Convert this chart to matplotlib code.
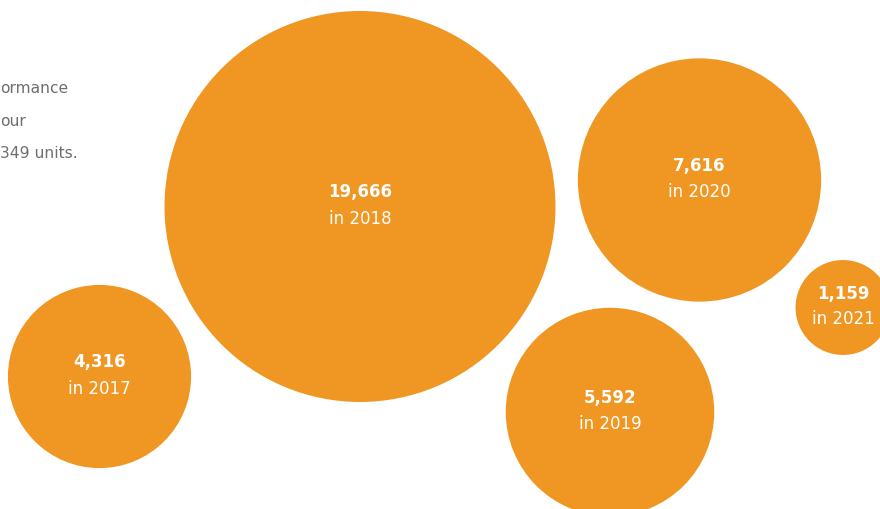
import matplotlib.pyplot as plt
from matplotlib.patches import Circle
import numpy as np

# data
years = ['2017', '2018', '2019', '2020', '2021']
units = [4316, 19666, 5592, 7616, 1159]

# layout (bubble centres in pixels, packed by hand)
centres = [(99.5, 376.5), (360, 206.5), (610, 412), (699.5, 180), (843, 307.5)]
scale = 1.394  # px per sqrt(unit)

orange = '#EF9623'
grey = '#6E6E6E'

plt.rcParams['font.family'] = ['DejaVu Sans']

fig = plt.figure(figsize=(8.8, 5.09), dpi=100)
ax = fig.add_axes([0, 0, 1, 1])
ax.set_xlim(0, 880)
ax.set_ylim(509, 0)
ax.set_aspect('equal')
ax.axis('off')

for yr, val, (cx, cy) in zip(years, units, centres):
    r = scale * np.sqrt(val)
    ax.add_patch(Circle((cx, cy), r, color=orange, lw=0))
    ax.text(cx, cy - 14, f'{val:,}', ha='center', va='center',
            color='white', fontsize=12, fontweight='bold')
    ax.text(cx, cy + 12, f'in {yr}', ha='center', va='center',
            color='white', fontsize=12)

# intro text, only the part that shows at the left edge
ax.text(0, 88, 'ormance', ha='left', va='center', color=grey, fontsize=11.2)
ax.text(0, 121, 'our', ha='left', va='center', color=grey, fontsize=11.2)
ax.text(0, 154, '349 units.', ha='left', va='center', color=grey, fontsize=11.2)

fig.savefig('out.png', dpi=100)
